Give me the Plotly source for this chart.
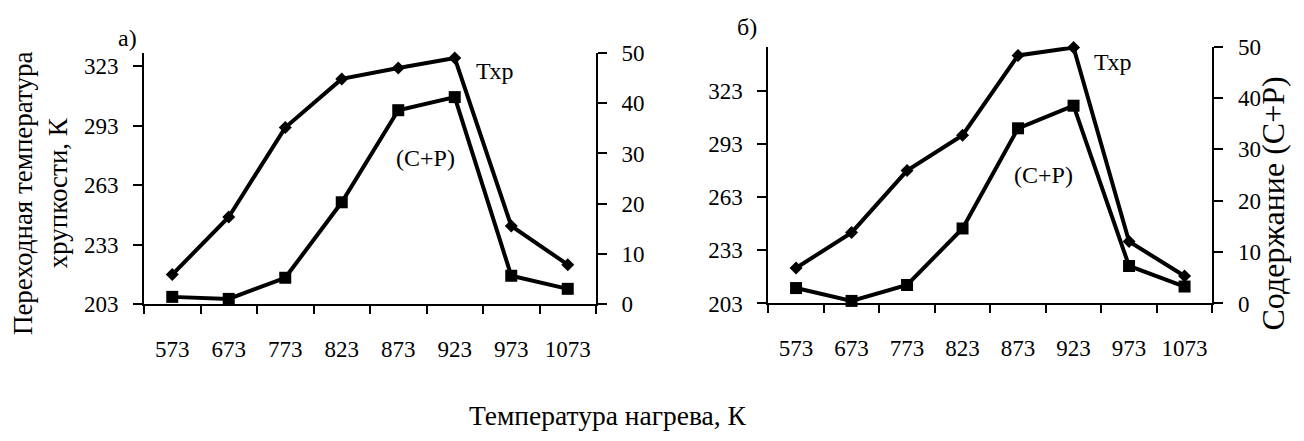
import plotly.graph_objects as go

# Heating temperature categories, K
categories = ["573", "673", "773", "823", "873", "923", "973", "1073"]

# Panel a): ductile-brittle transition temperature (K) and (C+P) content
t_br_a = [218, 247, 292, 316.5, 322, 327, 242.5, 223]
cp_a = [1.5, 1.1, 5.3, 20.3, 38.6, 41.2, 5.7, 3.1]

# Panel б)
t_br_b = [223, 243, 278, 298, 343, 347.5, 238, 218.5]
cp_b = [3.0, 0.5, 3.6, 14.6, 34.1, 38.5, 7.3, 3.3]

left_ticks = [203, 233, 263, 293, 323]
right_ticks = [0, 10, 20, 30, 40, 50]

W, H = 1304, 441
FONT = "Liberation Serif"


def fx(px):
    return px / W


def fy(py):
    return 1 - py / H


line_style = dict(color="black", width=4)
diamond = dict(symbol="diamond", size=10, color="black")
square = dict(symbol="square", size=12, color="black")

fig = go.Figure()

fig.add_trace(go.Scatter(x=categories, y=t_br_a, mode="lines+markers", line=line_style,
                         marker=diamond, xaxis="x", yaxis="y", cliponaxis=False))
fig.add_trace(go.Scatter(x=categories, y=cp_a, mode="lines+markers", line=line_style,
                         marker=square, xaxis="x", yaxis="y2", cliponaxis=False))
fig.add_trace(go.Scatter(x=categories, y=t_br_b, mode="lines+markers", line=line_style,
                         marker=diamond, xaxis="x2", yaxis="y3", cliponaxis=False))
fig.add_trace(go.Scatter(x=categories, y=cp_b, mode="lines+markers", line=line_style,
                         marker=square, xaxis="x2", yaxis="y4", cliponaxis=False))

tick_font = dict(family=FONT, size=23, color="black")

xcommon = dict(type="category", tickson="boundaries", ticks="outside", ticklen=8,
               tickwidth=2, tickcolor="black", showline=True, linecolor="black",
               linewidth=2, showgrid=False, zeroline=False, tickfont=tick_font,
               tickangle=0, ticklabelstandoff=23, range=[-0.5, 7.5])
ycommon = dict(ticks="outside", ticklen=9, tickwidth=2, tickcolor="black",
               showline=True, linecolor="black", linewidth=2, showgrid=False,
               zeroline=False, tickfont=tick_font, ticklabelstandoff=10)

fig.update_layout(
    width=W, height=H,
    margin=dict(l=0, r=0, t=0, b=0),
    paper_bgcolor="white", plot_bgcolor="white",
    showlegend=False,
    font=dict(family=FONT, color="black"),
    xaxis=dict(domain=[fx(144), fx(596)], anchor="y", **xcommon),
    yaxis=dict(domain=[fy(310), fy(43.3)], anchor="x", range=[203, 329.6],
               tickvals=left_ticks, **ycommon),
    yaxis2=dict(overlaying="y", side="right", anchor="x", range=[0, 50],
                tickvals=right_ticks, **ycommon),
    xaxis2=dict(domain=[fx(768.3), fx(1212.3)], anchor="y3", **xcommon),
    yaxis3=dict(domain=[fy(309), fy(36.7)], anchor="x2", range=[203, 348],
                tickvals=left_ticks, **ycommon),
    yaxis4=dict(overlaying="y3", side="right", anchor="x2", range=[0, 50],
                tickvals=right_ticks, **ycommon),
)

ann = [
    dict(text="а)", x=fx(127), y=fy(28), size=24),
    dict(text="б)", x=fx(747), y=fy(16), size=24),
    dict(text="Тхр", x=fx(495), y=fy(63), size=24),
    dict(text="(С+Р)", x=fx(425), y=fy(155), size=24),
    dict(text="Тхр", x=fx(1112), y=fy(53), size=24),
    dict(text="(С+Р)", x=fx(1043), y=fy(173), size=24),
    dict(text="Температура нагрева, К", x=fx(607), y=fy(428), size=27.5),
]
for a in ann:
    fig.add_annotation(text=a["text"], x=a["x"], y=a["y"], xref="paper", yref="paper",
                       showarrow=False, xanchor="center", yanchor="middle",
                       font=dict(family=FONT, size=a["size"], color="black"))

fig.add_annotation(text="Переходная температура<br>хрупкости, К", x=fx(40), y=fy(192),
                   xref="paper", yref="paper", showarrow=False, textangle=-90,
                   xanchor="center", yanchor="middle",
                   font=dict(family=FONT, size=27, color="black"))
fig.add_annotation(text="Содержание (С+Р)", x=fx(1273), y=fy(203),
                   xref="paper", yref="paper", showarrow=False, textangle=-90,
                   xanchor="center", yanchor="middle",
                   font=dict(family=FONT, size=32, color="black"))

fig.write_html("out.html")
